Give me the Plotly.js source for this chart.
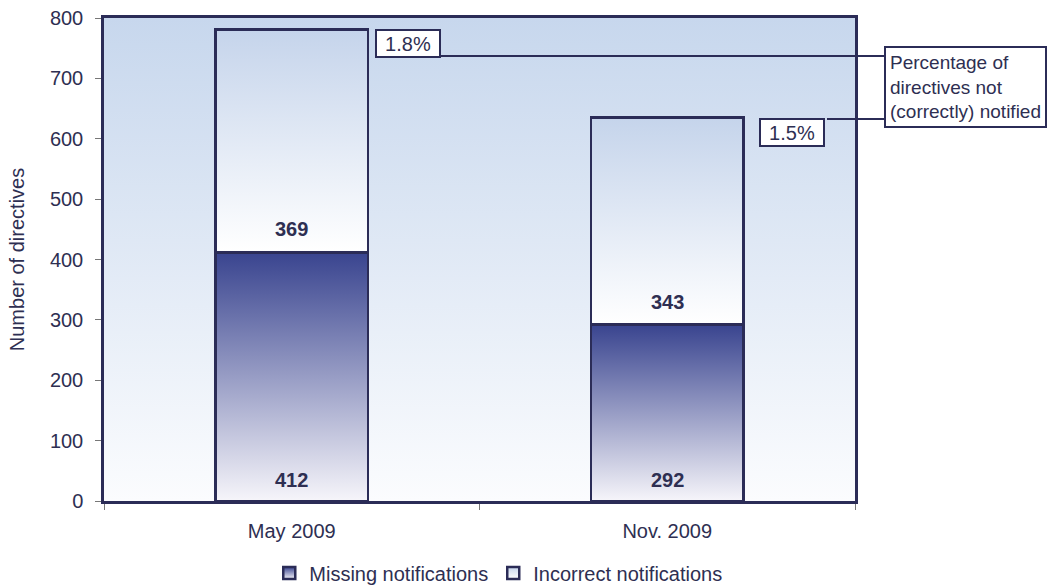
<!DOCTYPE html>
<html>
<head>
<meta charset="utf-8">
<script src="https://cdn.plot.ly/plotly-3.0.1.min.js"></script>
<style>
  html, body { margin: 0; padding: 0; background: #ffffff; }
  #chart { width: 1058px; height: 585px; }
</style>
</head>
<body>
<div id="chart"></div>
<script>
// ---- data ----
const categories = ['May 2009', 'Nov. 2009'];
const missing = [412, 292];
const incorrect = [369, 343];
const pctLabels = ['1.8%', '1.5%'];
const seriesNames = ['Missing notifications', 'Incorrect notifications'];
const yTickVals = [0, 100, 200, 300, 400, 500, 600, 700, 800];
const calloutText = 'Percentage of<br>directives not<br>(correctly) notified';

// ---- styling ----
const NAVY = '#2b2c57';
const TEXT = '#2e2f52';
const FONT = 'Liberation Sans, Arial, sans-serif';
const FS = 20;

const traces = [
  {
    type: 'bar', name: seriesNames[0], x: categories, y: missing,
    marker: { color: '#7a80b8', line: { color: NAVY, width: 2.5 } },
    hoverinfo: 'x+y+name'
  },
  {
    type: 'bar', name: seriesNames[1], x: categories, y: incorrect,
    marker: { color: '#e4ebf6', line: { color: NAVY, width: 2.5 } },
    hoverinfo: 'x+y+name'
  }
];

const annotations = [];
categories.forEach((c, i) => {
  annotations.push({
    x: c, y: 0, xref: 'x', yref: 'y', yshift: 21, showarrow: false,
    text: '<b>' + missing[i] + '</b>', font: { family: FONT, size: FS, color: TEXT }
  });
  annotations.push({
    x: c, y: missing[i], xref: 'x', yref: 'y', yshift: 23, showarrow: false,
    text: '<b>' + incorrect[i] + '</b>', font: { family: FONT, size: FS, color: TEXT }
  });
});
// percentage boxes next to the bars, anchored at each bar's total
const pctOffsets = [0.222, 0.244];
categories.forEach((c, i) => {
  annotations.push({
    x: i + pctOffsets[i], y: missing[i] + incorrect[i], xref: 'x', yref: 'y',
    xanchor: 'left', yanchor: 'top', showarrow: false,
    text: pctLabels[i], font: { family: FONT, size: FS, color: TEXT },
    bgcolor: '#ffffff', bordercolor: NAVY, borderwidth: 2, borderpad: 0,
    width: 62, height: 25
  });
});
annotations.push({
  x: 1.0386, y: 0.942, xref: 'paper', yref: 'paper', xanchor: 'left', yanchor: 'top',
  showarrow: false, align: 'left', text: calloutText,
  font: { family: FONT, size: 19, color: TEXT },
  bgcolor: '#ffffff', bordercolor: NAVY, borderwidth: 2, borderpad: 4
});

const shapes = [
  { type: 'line', xref: 'paper', yref: 'paper', x0: 0.4487, x1: 1.0386, y0: 0.9213, y1: 0.9213,
    line: { color: NAVY, width: 2 } },
  { type: 'line', xref: 'paper', yref: 'paper', x0: 0.9627, x1: 1.0386, y0: 0.7909, y1: 0.7909,
    line: { color: NAVY, width: 2 } }
];

const layout = {
  width: 1058, height: 585,
  margin: { l: 104, r: 203, t: 18, b: 84 },
  paper_bgcolor: '#ffffff',
  plot_bgcolor: '#e0e8f4',
  font: { family: FONT, size: FS, color: TEXT },
  barmode: 'stack',
  bargap: 0.595,
  showlegend: true,
  legend: {
    orientation: 'h', x: 0.525, xanchor: 'center', xref: 'paper',
    y: 0.0205, yanchor: 'middle', yref: 'container',
    font: { family: FONT, size: FS, color: TEXT }, itemwidth: 30, traceorder: 'normal',
    bgcolor: 'rgba(0,0,0,0)'
  },
  xaxis: {
    type: 'category', tickson: 'boundaries', ticks: 'outside', ticklen: 6,
    tickcolor: '#777777', tickwidth: 1,
    showline: true, linecolor: NAVY, linewidth: 2.5, mirror: true,
    showgrid: false, zeroline: false, ticklabelstandoff: 10,
    tickfont: { family: FONT, size: FS, color: TEXT }
  },
  yaxis: {
    range: [0, 800], tickvals: yTickVals, ticks: 'outside', ticklen: 6,
    tickcolor: '#777777', tickwidth: 1,
    showline: true, linecolor: NAVY, linewidth: 2.5, mirror: true,
    showgrid: false, zeroline: false, ticklabelstandoff: 8,
    tickfont: { family: FONT, size: FS, color: TEXT },
    title: { text: 'Number of directives', font: { family: FONT, size: FS, color: TEXT }, standoff: 20 }
  },
  annotations: annotations,
  shapes: shapes
};

function addGradient(defs, id, top, bottom) {
  const ns = 'http://www.w3.org/2000/svg';
  const g = document.createElementNS(ns, 'linearGradient');
  g.setAttribute('id', id);
  g.setAttribute('x1', '0'); g.setAttribute('y1', '0');
  g.setAttribute('x2', '0'); g.setAttribute('y2', '1');
  [[0, top], [1, bottom]].forEach(([o, c]) => {
    const s = document.createElementNS(ns, 'stop');
    s.setAttribute('offset', o);
    s.setAttribute('stop-color', c);
    g.appendChild(s);
  });
  defs.appendChild(g);
}

Plotly.newPlot('chart', traces, layout, { displayModeBar: false }).then(gd => {
  const svg = gd.querySelector('.main-svg');
  let defs = svg.querySelector('defs');
  if (!defs) { defs = document.createElementNS('http://www.w3.org/2000/svg', 'defs'); svg.insertBefore(defs, svg.firstChild); }
  addGradient(defs, 'gradBg', '#c7d7ed', '#fbfcfe');
  addGradient(defs, 'gradMissing', '#39448f', '#f6f5fa');
  addGradient(defs, 'gradIncorrect', '#c5d4eb', '#ffffff');
  const bg = gd.querySelector('.bglayer .bg');
  if (bg) bg.style.fill = 'url(#gradBg)';
  const ids = ['gradMissing', 'gradIncorrect'];
  gd.querySelectorAll('.barlayer .trace.bars').forEach((t, i) => {
    t.querySelectorAll('path').forEach(p => { p.style.fill = 'url(#' + ids[i] + ')'; });
  });
  gd.querySelectorAll('.legend .traces').forEach((t, i) => {
    t.querySelectorAll('.legendpoints path').forEach(p => { p.style.fill = 'url(#' + ids[i] + ')'; });
  });
});
</script>
</body>
</html>
